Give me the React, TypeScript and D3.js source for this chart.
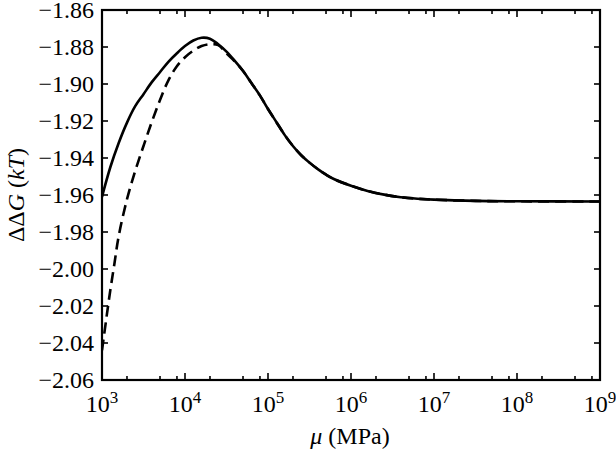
import React from "react";
import * as d3 from "d3";

// log10(mu / MPa) sample positions and ΔΔG values (kT)
const muExpSolid = [3.0, 3.1, 3.2, 3.3, 3.4, 3.5, 3.6, 3.7, 3.8, 3.9, 4.0, 4.1, 4.2, 4.3, 4.4, 4.5, 4.6, 4.7, 4.8, 4.9, 5.0, 5.1, 5.2, 5.3, 5.4, 5.5, 5.6, 5.7, 5.8, 6.0, 6.2, 6.4, 6.6, 6.8, 7.0, 7.5, 8.0, 9.0];
const dgSolid = [-1.961, -1.945, -1.932, -1.921, -1.912, -1.9055, -1.899, -1.8935, -1.888, -1.8835, -1.8795, -1.8765, -1.875, -1.8755, -1.8785, -1.8825, -1.8875, -1.893, -1.8995, -1.906, -1.9135, -1.9205, -1.9275, -1.9335, -1.9385, -1.9425, -1.946, -1.949, -1.9515, -1.955, -1.9578, -1.9598, -1.9612, -1.962, -1.9625, -1.9632, -1.9634, -1.9635];

const muExpDashed = [3.0, 3.05, 3.1, 3.15, 3.2, 3.3, 3.4, 3.5, 3.6, 3.7, 3.8, 3.9, 4.0, 4.1, 4.2, 4.3, 4.4, 4.5, 4.6, 4.7, 4.8, 4.9, 5.0, 5.1, 5.2, 5.3, 5.4, 5.5, 5.6, 5.7, 5.8, 6.0, 6.2, 6.4, 6.6, 6.8, 7.0, 7.5, 8.0, 9.0];
const dgDashed = [-2.044, -2.0275, -2.0115, -1.997, -1.9825, -1.9625, -1.947, -1.9335, -1.9205, -1.9085, -1.898, -1.8905, -1.8855, -1.882, -1.8795, -1.8785, -1.879, -1.8835, -1.8878, -1.893, -1.8995, -1.906, -1.9135, -1.9205, -1.9275, -1.9335, -1.9385, -1.9425, -1.946, -1.949, -1.9515, -1.955, -1.9578, -1.9598, -1.9612, -1.962, -1.9625, -1.9632, -1.9634, -1.9635];

const xDecades = [3, 4, 5, 6, 7, 8, 9];
const xMinorMult = [2, 5, 8];
const yTicks = [-2.06, -2.04, -2.02, -2.0, -1.98, -1.96, -1.94, -1.92, -1.9, -1.88, -1.86];

const W = 616, H = 454;
const L = 102, R = 600, T = 10, B = 380;
const FONT = "Liberation Serif";

export default function App() {
  const x = d3.scaleLog().domain([1e3, 1e9]).range([L, R]);
  const y = d3.scaleLinear().domain([-2.06, -1.86]).range([B, T]);
  const line = d3.line<[number, number]>().x(d => x(d[0])).y(d => y(d[1])).curve(d3.curveCatmullRom.alpha(0.5));
  const solid = line(muExpSolid.map((e, i) => [Math.pow(10, e), dgSolid[i]]) as [number, number][]) || "";
  const dashed = line(muExpDashed.map((e, i) => [Math.pow(10, e), dgDashed[i]]) as [number, number][]) || "";
  const fmt = d3.format(".2f");
  const minors: number[] = [];
  xDecades.slice(0, -1).forEach(d => xMinorMult.forEach(m => minors.push(m * Math.pow(10, d))));
  const majLen = 7, minLen = 4, yLen = 6;
  return (
    <div style={{ position: "fixed", left: 0, top: 0 }}>
      <svg width={W} height={H} style={{ display: "block", background: "#fff" }}>
        <defs>
          <clipPath id="plot"><rect x={L} y={T} width={R - L} height={B - T} /></clipPath>
        </defs>
        <g clipPath="url(#plot)" fill="none" stroke="#000">
          <path d={solid} strokeWidth={2.6} />
          <path d={dashed} strokeWidth={2.6} strokeDasharray="11,6" />
        </g>
        <g stroke="#000" strokeWidth={1.6}>
          {xDecades.map(d => {
            const px = x(Math.pow(10, d));
            return (
              <g key={"M" + d}>
                <line x1={px} x2={px} y1={B} y2={B - majLen} />
                <line x1={px} x2={px} y1={T} y2={T + majLen} />
              </g>
            );
          })}
          {minors.map((m, i) => {
            const px = x(m);
            return (
              <g key={"m" + i}>
                <line x1={px} x2={px} y1={B} y2={B - minLen} />
                <line x1={px} x2={px} y1={T} y2={T + minLen} />
              </g>
            );
          })}
          {yTicks.map((v, i) => (
            <g key={"y" + i}>
              <line x1={L} x2={L + yLen} y1={y(v)} y2={y(v)} />
              <line x1={R} x2={R - yLen} y1={y(v)} y2={y(v)} />
            </g>
          ))}
        </g>
        <rect x={L} y={T} width={R - L} height={B - T} fill="none" stroke="#000" strokeWidth={2.2} />
        <g fontFamily={FONT} fontSize={24} fill="#000">
          {yTicks.map((v, i) => (
            <text key={"yl" + i} x={L - 8} y={y(v)} dy="0.34em" textAnchor="end">{fmt(v)}</text>
          ))}
          {xDecades.map(d => (
            <text key={"xl" + d} x={x(Math.pow(10, d))} y={B + 32} textAnchor="middle">
              10<tspan dy={-9} fontSize={17}>{d}</tspan>
            </text>
          ))}
          <text x={350} y={444} textAnchor="middle">
            <tspan fontStyle="italic">μ</tspan> (MPa)
          </text>
          <text transform={`translate(24,${(T + B) / 2}) rotate(-90)`} textAnchor="middle">
            ΔΔ<tspan fontStyle="italic">G</tspan> (<tspan fontStyle="italic">kT</tspan>)
          </text>
        </g>
      </svg>
    </div>
  );
}
